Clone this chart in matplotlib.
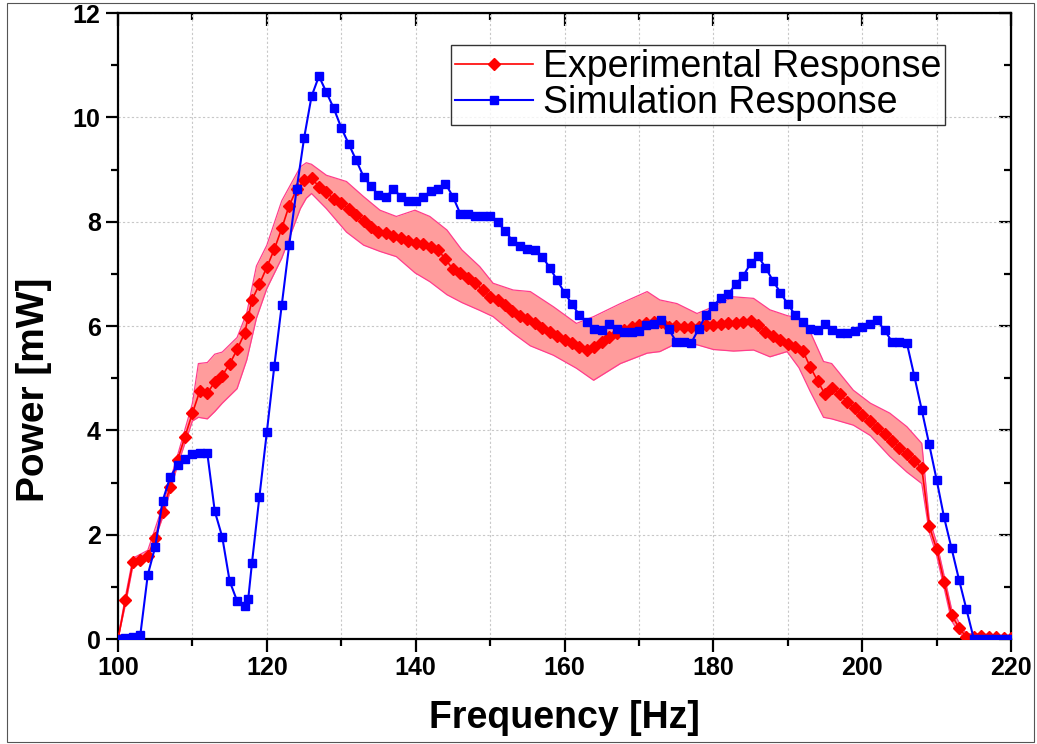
import matplotlib
matplotlib.use('Agg')
import matplotlib.pyplot as plt
from matplotlib.patches import Rectangle
from matplotlib.ticker import MultipleLocator

# experimental response (mean)
exp_freq = [100, 101, 102, 103, 104, 105, 106, 107, 108, 109, 110, 111, 112, 113, 114, 115,
            116, 117, 117.5, 118, 119, 120, 121, 122, 123, 124, 125, 126, 127, 128, 129, 130,
            131, 132, 133, 134, 135, 136, 137, 138, 139, 140, 141, 142, 143, 144, 145, 146,
            147, 148, 149, 150, 151, 152, 153, 154, 155, 156, 157, 158, 159, 160, 161, 162,
            163, 164, 165, 166, 167, 168, 169, 170, 171, 172, 173, 174, 175, 176, 177, 178,
            179, 180, 181, 182, 183, 184, 185, 186, 187, 188, 189, 190, 191, 192, 193, 194,
            195, 196, 197, 198, 199, 200, 201, 202, 203, 204, 205, 206, 207, 208, 209, 210,
            211, 212, 213, 214, 215, 216, 217, 218, 219, 220]
exp_power = [0.0, 0.74, 1.47, 1.51, 1.60, 1.93, 2.43, 2.92, 3.43, 3.88, 4.33, 4.76, 4.71, 4.93, 5.05, 5.27,
             5.55, 5.86, 6.17, 6.50, 6.80, 7.13, 7.47, 7.87, 8.31, 8.62, 8.79, 8.84, 8.67, 8.56, 8.44, 8.35,
             8.24, 8.13, 8.01, 7.90, 7.81, 7.78, 7.73, 7.68, 7.63, 7.60, 7.57, 7.52, 7.46, 7.28, 7.09, 7.02,
             6.93, 6.82, 6.69, 6.56, 6.49, 6.40, 6.29, 6.20, 6.14, 6.05, 5.97, 5.89, 5.81, 5.73, 5.67, 5.59,
             5.54, 5.60, 5.69, 5.78, 5.86, 5.92, 5.99, 6.02, 6.06, 6.07, 6.08, 5.99, 6.00, 5.99, 5.98, 5.98,
             6.02, 6.02, 6.04, 6.05, 6.05, 6.07, 6.10, 6.02, 5.89, 5.81, 5.73, 5.65, 5.59, 5.53, 5.22, 4.95,
             4.69, 4.81, 4.69, 4.55, 4.42, 4.29, 4.18, 4.05, 3.93, 3.80, 3.67, 3.54, 3.42, 3.28, 2.17, 1.72,
             1.10, 0.46, 0.22, 0.03, 0.04, 0.05, 0.04, 0.03, 0.02, 0.02]

# experimental spread (band edges)
band_freq = [100, 101, 102, 104, 106, 108, 110, 110.8, 112, 113, 114, 116, 117.3, 118.6, 120, 122,
             124.5, 125.3, 126, 128, 130.7, 133, 135.2, 137.4, 139.9, 141.9, 144.2, 146.2, 148.6,
             150.4, 153.1, 155.4, 158.5, 161.6, 163.9, 167.5, 171.1, 172.8, 175.1, 177.8, 180,
             182.7, 185.4, 187.6, 189.9, 191.5, 193, 194.8, 195.9, 198.8, 201.1, 203.7, 206, 208,
             209, 210, 211, 212, 213, 214, 216, 220]
band_upper = [0.02, 0.82, 1.55, 1.70, 2.55, 3.52, 4.52, 5.28, 5.30, 5.46, 5.50, 5.78, 6.25, 7.15, 7.55, 8.40,
              9.05, 9.13, 9.10, 8.89, 8.77, 8.48, 8.22, 8.10, 8.22, 8.10, 7.84, 7.46, 7.14,
              6.82, 6.69, 6.66, 6.37, 6.05, 6.18, 6.43, 6.66, 6.50, 6.43, 6.24, 6.37,
              6.56, 6.53, 6.31, 6.20, 6.15, 5.89, 5.32, 5.28, 4.77, 4.52, 4.33, 4.07, 3.75,
              2.30, 1.85, 1.22, 0.58, 0.32, 0.10, 0.10, 0.04]
band_lower = [0.0, 0.66, 1.40, 1.52, 2.33, 3.33, 4.18, 4.25, 4.22, 4.36, 4.52, 4.80, 5.35, 6.15, 6.72, 7.30,
              8.25, 8.45, 8.54, 8.25, 7.80, 7.55, 7.43, 7.33, 7.02, 6.85, 6.60, 6.45, 6.30,
              6.18, 5.86, 5.62, 5.44, 5.19, 4.96, 5.28, 5.48, 5.51, 5.67, 5.64, 5.55,
              5.52, 5.54, 5.41, 5.51, 5.20, 4.75, 4.25, 4.22, 4.10, 3.90, 3.50, 3.20, 2.98,
              2.05, 1.60, 0.98, 0.35, 0.12, 0.0, 0.0, 0.0]

# simulation response
sim_freq = exp_freq
sim_power = [0.0, 0.02, 0.03, 0.08, 1.23, 1.77, 2.65, 3.10, 3.34, 3.46, 3.54, 3.57, 3.56, 2.45, 1.96, 1.11,
             0.73, 0.63, 0.77, 1.46, 2.73, 3.97, 5.23, 6.40, 7.55, 8.62, 9.60, 10.40, 10.79, 10.48, 10.17, 9.80,
             9.49, 9.18, 8.86, 8.68, 8.51, 8.47, 8.63, 8.48, 8.40, 8.40, 8.48, 8.58, 8.63, 8.73, 8.48, 8.15,
             8.15, 8.10, 8.11, 8.10, 7.99, 7.83, 7.63, 7.54, 7.47, 7.46, 7.33, 7.12, 6.88, 6.64, 6.42, 6.21,
             6.07, 5.95, 5.92, 6.04, 5.94, 5.88, 5.88, 5.90, 6.01, 6.04, 6.11, 5.94, 5.70, 5.69, 5.67, 5.94,
             6.21, 6.39, 6.53, 6.61, 6.80, 6.96, 7.20, 7.34, 7.12, 6.87, 6.64, 6.42, 6.21, 6.08, 5.95, 5.92,
             6.03, 5.93, 5.87, 5.87, 5.91, 5.99, 6.03, 6.11, 5.92, 5.70, 5.70, 5.67, 5.04, 4.39, 3.73, 3.05,
             2.33, 1.74, 1.14, 0.57, 0.0, 0.0, 0.0, 0.0, 0.0, 0.0]

plt.rcParams['font.family'] = ['Liberation Sans', 'DejaVu Sans']

fig = plt.figure(figsize=(10.37, 7.44), dpi=100)
ax = fig.add_axes([0.1138, 0.1411, 0.8612, 0.8414])

# band + curves
ax.fill_between(band_freq, band_lower, band_upper, color='#ff9c9c', zorder=2, linewidth=0)
ax.plot(band_freq, band_upper, color='#ff3c8c', lw=0.9, zorder=2)
ax.plot(band_freq, band_lower, color='#ff3c8c', lw=0.9, zorder=2)
ax.plot(exp_freq, exp_power, color='red', lw=1.2, marker='D', ms=6.5, mec='red', mfc='red',
        label='Experimental Response', zorder=3)
ax.plot(sim_freq, sim_power, color='#0000ff', lw=1.5, marker='s', ms=6, mec='#0000ff', mfc='#0000ff',
        label='Simulation Response', zorder=4)

ax.set_xlim(100, 220)
ax.set_ylim(0, 12)
ax.xaxis.set_major_locator(MultipleLocator(20))
ax.xaxis.set_minor_locator(MultipleLocator(10))
ax.yaxis.set_major_locator(MultipleLocator(2))
ax.yaxis.set_minor_locator(MultipleLocator(1))

ax.grid(True, which='major', axis='y', color='#c8c8c8', ls=(0, (2, 2)), lw=0.8, zorder=0)
ax.grid(True, which='both', axis='x', color='#c8c8c8', ls=(0, (2, 2)), lw=0.8, zorder=0)

for s in ax.spines.values():
    s.set_linewidth(1.6)
ax.tick_params(which='major', direction='out', length=9, width=1.6, labelsize=18)
ax.tick_params(which='minor', direction='out', length=5, width=1.6)
for lab in ax.get_xticklabels() + ax.get_yticklabels():
    lab.set_fontweight('bold')

# inward ticks on top and right
top = ax.secondary_xaxis('top')
top.xaxis.set_major_locator(MultipleLocator(20))
top.xaxis.set_minor_locator(MultipleLocator(10))
top.tick_params(which='major', direction='in', length=9, width=1.6, labeltop=False)
top.tick_params(which='minor', direction='in', length=5, width=1.6)
right = ax.secondary_yaxis('right')
right.yaxis.set_major_locator(MultipleLocator(2))
right.yaxis.set_minor_locator(MultipleLocator(1))
right.tick_params(which='major', direction='in', length=9, width=1.6, labelright=False)
right.tick_params(which='minor', direction='in', length=5, width=1.6)

ax.set_xlabel('Frequency [Hz]', fontsize=27, fontweight='bold', labelpad=14)
ax.set_ylabel('Power [mW]', fontsize=28, fontweight='bold')
ax.yaxis.set_label_coords(-0.074, 0.398)

leg = ax.legend(loc='upper right', bbox_to_anchor=(0.926, 0.949), fontsize=27, frameon=True,
                fancybox=False, edgecolor='black', handlelength=2.1, borderpad=0.1,
                labelspacing=0.02, handletextpad=0.25, borderaxespad=0)
leg.get_frame().set_linewidth(1.0)

fig.patches.append(Rectangle((7 / 1037, 2 / 744), 1027 / 1037, 739 / 744, transform=fig.transFigure,
                             fill=False, edgecolor='#555555', lw=0.8))

fig.savefig('out.png', dpi=100)
